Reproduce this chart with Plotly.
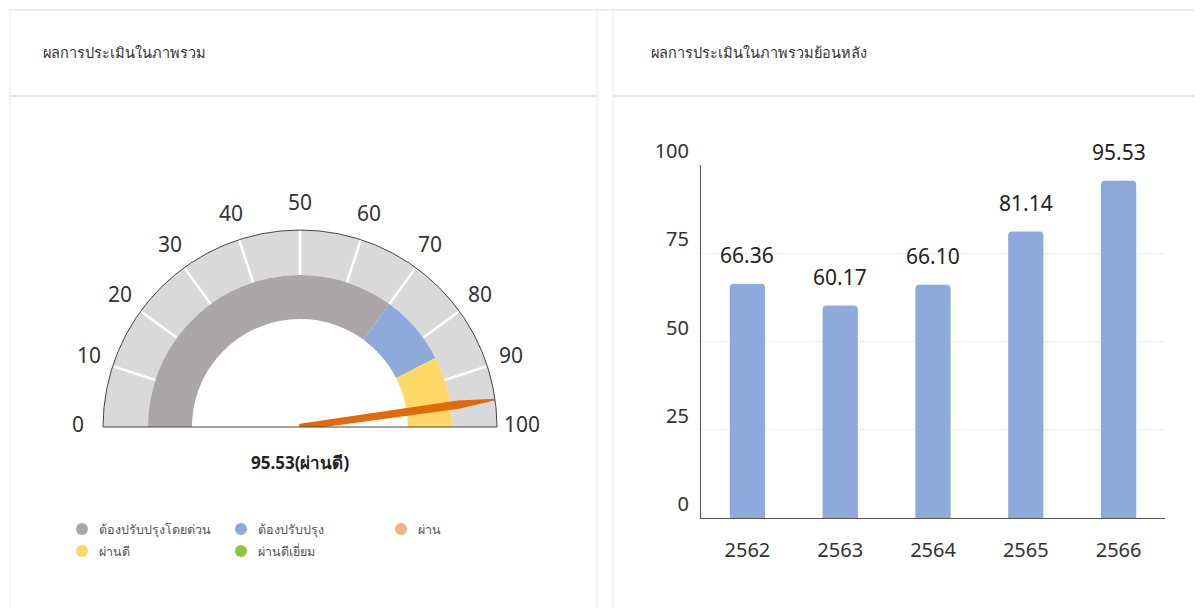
import math
import plotly.graph_objects as go

# page is offset by the default 8px body margin
OFF = 8
FW, FH = 1194, 600


def px(x):
    return (x - OFF) / FW


def py(y):
    return 1 - (y - OFF) / FH


# ---------------- data ----------------
gauge_title = "ผลการประเมินในภาพรวม"
bar_title = "ผลการประเมินในภาพรวมย้อนหลัง"

score = 95.53
score_label = "ผ่านดี"

gauge_ticks = [0, 10, 20, 30, 40, 50, 60, 70, 80, 90, 100]

band_names = ["ต้องปรับปรุงโดยด่วน", "ต้องปรับปรุง", "ผ่านดี"]
band_start = [0, 70, 85]
band_end = [70, 85, 100]
band_colors = ["#aba6a8", "#8eaadb", "#ffd966"]

legend_names = ["ต้องปรับปรุงโดยด่วน", "ต้องปรับปรุง", "ผ่าน", "ผ่านดี", "ผ่านดีเยี่ยม"]
legend_colors = ["#aba6a8", "#8eaadb", "#f4b183", "#ffd966", "#8cc63f"]

years = ["2562", "2563", "2564", "2565", "2566"]
year_scores = [66.36, 60.17, 66.10, 81.14, 95.53]
bar_yticks = [0, 25, 50, 75, 100]

# ---------------- style ----------------
FONT = "Noto Sans, Open Sans, sans-serif"
CX, CY = 300, 427          # gauge centre (page px)
R_OUT = 197
R_MID = 152
R_IN = 108
R_LAB = 222
DEG = 180 / 100.0  # gauge value -> degrees

fig = go.Figure()

# light grey outer band
fig.add_trace(go.Barpolar(
    theta=[90], width=[180], base=[R_MID], r=[R_OUT - R_MID],
    marker=dict(color="#d9d9d9", line=dict(width=0)),
    showlegend=False, hoverinfo="skip", subplot="polar"))

# coloured category band
for name, s, e, c in zip(band_names, band_start, band_end, band_colors):
    fig.add_trace(go.Barpolar(
        theta=[(s + e) / 2 * DEG], width=[(e - s) * DEG], base=[R_IN], r=[R_MID - R_IN],
        marker=dict(color=c, line=dict(width=0)), name=name,
        showlegend=False, hoverinfo="skip", subplot="polar"))

# white tick separators in the outer band
for t in gauge_ticks[1:-1]:
    fig.add_trace(go.Scatterpolar(
        r=[R_MID, R_OUT], theta=[t * DEG, t * DEG], mode="lines",
        line=dict(color="white", width=2.5), showlegend=False, hoverinfo="skip",
        subplot="polar"))

# needle
th = score * DEG
fig.add_trace(go.Scatterpolar(
    r=[2.5, 160, R_OUT, 160, 2.5, 2.5],
    theta=[th - 90, th - 1.25, th, th + 1.25, th + 90, th - 90],
    mode="lines", fill="toself", fillcolor="#e06a0c",
    line=dict(color="#e06a0c", width=1.5), showlegend=False, hoverinfo="skip",
    subplot="polar"))

# bars (numeric positions, labelled with the years)
xpos = list(range(len(years)))
fig.add_trace(go.Bar(
    x=xpos, y=year_scores, marker=dict(color="#8eaadb", line=dict(width=0), cornerradius=4),
    width=0.38, xaxis="x", yaxis="y", showlegend=False, hoverinfo="skip"))

annotations = []
for xi, v in zip(xpos, year_scores):
    annotations.append(dict(
        x=xi, y=v, xref="x", yref="y", text=f"{v:.2f}", showarrow=False,
        yanchor="bottom", yshift=13, font=dict(size=21, color="#222", family=FONT)))

# gauge scale labels
for t in gauge_ticks:
    a = math.radians(180 - t * DEG)
    annotations.append(dict(
        x=px(CX + R_LAB * math.cos(a)), y=py(CY - 3 - R_LAB * math.sin(a)),
        xref="paper", yref="paper", text=str(t), showarrow=False,
        xanchor="center", yanchor="middle",
        font=dict(size=21, color="#333", family=FONT)))

# titles
annotations.append(dict(x=px(41), y=py(52), xref="paper", yref="paper", text=gauge_title,
                        showarrow=False, xanchor="left", yanchor="middle",
                        font=dict(size=14.5, color="#333", family=FONT)))
annotations.append(dict(x=px(649), y=py(52), xref="paper", yref="paper", text=bar_title,
                        showarrow=False, xanchor="left", yanchor="middle",
                        font=dict(size=14.5, color="#333", family=FONT)))
# gauge value label
annotations.append(dict(x=px(CX), y=py(462), xref="paper", yref="paper",
                        text=f"<b>{score:.2f}({score_label})</b>", showarrow=False,
                        xanchor="center", yanchor="middle",
                        font=dict(size=17, color="#222", family=FONT)))

shapes = []
# cards
shapes.append(dict(type="rect", xref="paper", yref="paper", x0=px(10), x1=px(597),
                   y0=-0.05, y1=py(10), line=dict(color="#eeeeee", width=1),
                   fillcolor="rgba(0,0,0,0)", layer="below"))
shapes.append(dict(type="rect", xref="paper", yref="paper", x0=px(613), x1=1.05,
                   y0=-0.05, y1=py(10), line=dict(color="#eeeeee", width=1),
                   fillcolor="rgba(0,0,0,0)", layer="below"))
shapes.append(dict(type="line", xref="paper", yref="paper", x0=0, x1=1.05, y0=py(10),
                   y1=py(10), line=dict(color="#eeeeee", width=2)))
for x0, x1 in [(10, 597), (613, 1240)]:
    shapes.append(dict(type="line", xref="paper", yref="paper", x0=px(x0), x1=px(x1),
                       y0=py(96), y1=py(96), line=dict(color="#e6e6e6", width=2)))

# legend (circles + labels)
leg_pos = [(82, 529), (241, 529), (401, 529), (82, 551), (241, 551)]
for (cx, cy), name, col in zip(leg_pos, legend_names, legend_colors):
    shapes.append(dict(type="circle", xref="paper", yref="paper",
                       x0=px(cx - 6), x1=px(cx + 6), y0=py(cy + 6), y1=py(cy - 6),
                       fillcolor=col, line=dict(width=0)))
    annotations.append(dict(x=px(cx + 15), y=py(cy), xref="paper", yref="paper",
                            text=name, showarrow=False, xanchor="left", yanchor="middle",
                            font=dict(size=12.5, color="#555", family=FONT)))

fig.update_layout(
    template="none",
    width=FW, height=FH, margin=dict(l=0, r=0, t=0, b=0, pad=0), autosize=False,
    paper_bgcolor="white", plot_bgcolor="white",
    font=dict(family=FONT, color="#333"),
    showlegend=False,
    polar=dict(
        domain=dict(x=[px(CX - R_OUT), px(CX + R_OUT)], y=[py(CY), py(CY - R_OUT)]),
        sector=[0, 180], bgcolor="rgba(0,0,0,0)", hole=0,
        radialaxis=dict(visible=False, range=[0, R_OUT]),
        angularaxis=dict(direction="clockwise", rotation=180,
                         showticklabels=False, ticks="",
                         showgrid=False, showline=True, linecolor="#444", linewidth=1),
    ),
    xaxis=dict(domain=[px(701), px(1165)], anchor="y", range=[-0.5, len(years) - 0.5],
               tickmode="array", tickvals=xpos, ticktext=years, automargin=False,
               showline=True, linecolor="#555", linewidth=1, showgrid=False, zeroline=False,
               ticks="outside", ticklen=14, tickcolor="rgba(0,0,0,0)",
               tickfont=dict(size=20, color="#333", family=FONT), fixedrange=True),
    yaxis=dict(domain=[py(518), py(165)], anchor="x", range=[0, 100],
               tickmode="array", tickvals=bar_yticks, automargin=False,
               showline=True, linecolor="#555", linewidth=1,
               showgrid=True, gridcolor="#eeeeee", gridwidth=1, zeroline=False,
               ticks="", ticklabelstandoff=7,
               ticklabelposition="outside top",
               tickfont=dict(size=20, color="#333", family=FONT), fixedrange=True),
    annotations=annotations, shapes=shapes,
)

fig.write_html("out.html")
